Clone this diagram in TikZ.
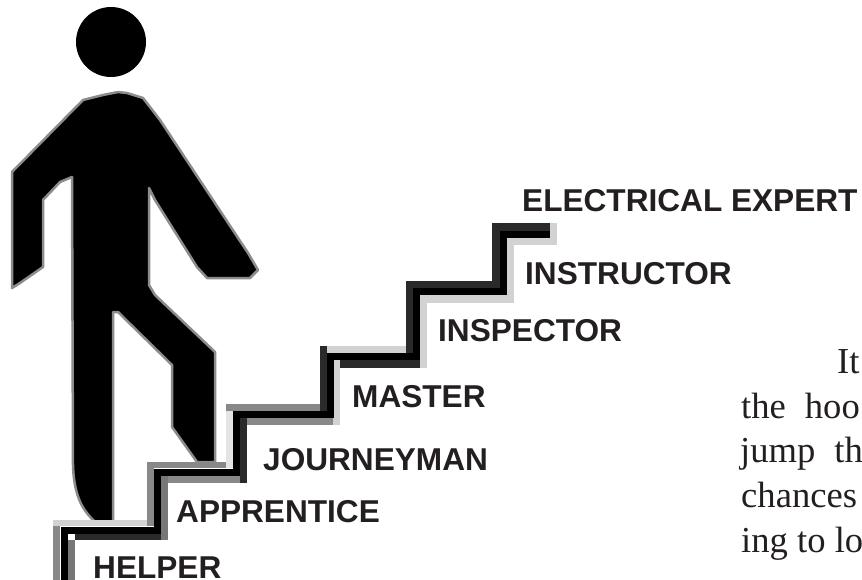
\documentclass[tikz,border=0pt]{standalone}
\usepackage{fontspec}
\setmainfont{Liberation Serif}
\newfontfamily\labelfont{Liberation Sans}
\definecolor{ink}{HTML}{231F20}
\definecolor{bandA}{HTML}{888888}
\definecolor{bandB}{HTML}{777777}
\definecolor{bandL}{HTML}{D2D2D2}
\definecolor{bandD}{HTML}{2A2A2A}
\tikzset{
  steplabel/.style={anchor=base west,inner sep=0pt,text=ink,font=\labelfont\bfseries\fontsize{31.6}{31.6}\selectfont},
  bodytext/.style={anchor=base west,inner sep=0pt,text=ink,font=\fontsize{36.6}{36.6}\selectfont},
  figureshape/.style={fill=black,draw=black!45,line width=2.5pt,line join=round},
  stairline/.style={draw=black,line width=7pt,miter limit=10}
}
\newcommand{\band}[5]{\fill[#5] (#1,#2) rectangle (#3,#4);}
\begin{document}
\begin{tikzpicture}[x=1pt,y=-1pt]
\useasboundingbox (0,0) rectangle (862,580);
% figure
\fill[black] (111,42) circle (35);
\path[figureshape]
  (118,92) -- (127,93) -- (143,98) -- (160,120) -- (248,253) -- (258,270) -- (250,278) -- (207,278)
  -- (197,267) -- (155,200) -- (149,188) -- (149,285) -- (155,295) -- (215,352) -- (215,462)
  -- (197,462) -- (172,427) -- (172,365) -- (118,312) -- (113,312) -- (113,522) -- (95,522)
  .. controls (85,512) and (74,500) .. (73,465) -- (72,177) -- (60,182) -- (43,200) -- (43,267)
  -- (20,283) -- (12,288) -- (12,172) -- (83,100) -- (103,95) -- cycle;
% stair edges
\band{53}{520}{60}{580}{bandA}
\band{68}{540}{75}{580}{bandB}
\band{53}{520}{147}{526}{bandL}
\band{75}{533}{168}{540}{bandD}
\band{147}{462}{154}{526}{bandA}
\band{161}{476}{168}{540}{bandB}
\band{147}{462}{233}{468}{bandA}
\band{168}{476}{247}{483}{bandA}
\band{226}{404}{233}{468}{bandL!60}
\band{240}{418}{247}{483}{bandD}
\band{226}{404}{320}{411}{bandA}
\band{247}{418}{340}{425}{bandA}
\band{333}{360}{340}{425}{bandL}
\band{320}{346}{406}{353}{bandL}
\band{320}{346}{327}{411}{bandD}
\band{340}{360}{427}{368}{bandD}
\band{420}{295}{427}{368}{bandL}
\band{406}{281}{413}{353}{bandD}
\band{406}{281}{492}{288}{bandD}
\band{427}{295}{514}{303}{bandL}
\band{507}{238}{514}{303}{bandL}
\band{492}{223}{500}{288}{bandD}
\band{492}{223}{550}{231}{bandD}
\band{514}{238}{557}{245}{bandL}
\band{550}{223}{557}{238}{bandL}
% stair core
\coordinate (s0) at (64,580);
\coordinate (s1) at (64,530);
\coordinate (s2) at (157.5,530);
\coordinate (s3) at (157.5,472);
\coordinate (s4) at (236.5,472);
\coordinate (s5) at (236.5,414.5);
\coordinate (s6) at (330,414.5);
\coordinate (s7) at (330,356.5);
\coordinate (s8) at (416.5,356.5);
\coordinate (s9) at (416.5,291.5);
\coordinate (s10) at (503.5,291.5);
\coordinate (s11) at (503.5,234.5);
\coordinate (s12) at (550,234.5);
\draw[stairline] (s0) -- (s1) -- (s2) -- (s3) -- (s4) -- (s5) -- (s6) -- (s7) -- (s8) -- (s9) -- (s10) -- (s11) -- (s12);
% labels
\node[steplabel] (helper) at (93,578) {HELPER};
\node[steplabel] (apprentice) at (176,522) {APPRENTICE};
\node[steplabel] (journeyman) at (263,470) {JOURNEYMAN};
\node[steplabel] (master) at (352,407) {MASTER};
\node[steplabel] (inspector) at (438,341) {INSPECTOR};
\node[steplabel] (instructor) at (525,284) {INSTRUCTOR};
\node[steplabel] (expert) at (522,212) {ELECTRICAL EXPERT};
% body text
\node[bodytext] (t1) at (837,373) {It'};
\node[bodytext] (t2) at (741,418) {\spaceskip=19pt the hoo};
\node[bodytext] (t3) at (740,462) {\spaceskip=19pt jump th};
\node[bodytext] (t4) at (741,507) {chances};
\node[bodytext] (t5) at (741,552) {ing to lo};
\end{tikzpicture}
\end{document}
